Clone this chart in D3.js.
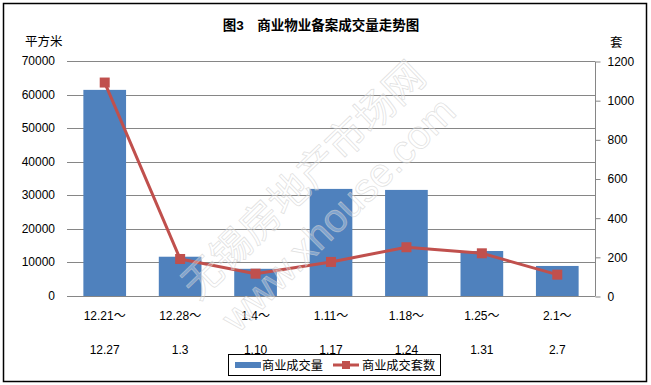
<!DOCTYPE html>
<html>
<head>
<meta charset="utf-8">
<script src="https://cdn.jsdelivr.net/npm/d3@7"></script>
<style>
  body { margin: 0; background: #fff; }
  svg text { font-family: "Liberation Sans", Arial, "Noto Sans CJK SC", sans-serif; }
</style>
</head>
<body>
<svg id="chart" width="651" height="385"></svg>
<script>
var periodStart = ["12.21～", "12.28～", "1.4～", "1.11～", "1.18～", "1.25～", "2.1～"];
var periodEnd = ["12.27", "1.3", "1.10", "1.17", "1.24", "1.31", "2.7"];
var areaSold = [61400, 11700, 8100, 31900, 31600, 13400, 8950];
var unitsSold = [1090, 189, 114, 174, 249, 218, 109];
var leftTicks = [0, 10000, 20000, 30000, 40000, 50000, 60000, 70000];
var rightTicks = [0, 200, 400, 600, 800, 1000, 1200];

var svg = d3.select("#chart");
var cjk = "'Noto Sans CJK SC', sans-serif";

// outer frame
svg.append("rect")
    .attr("x", 3.5).attr("y", 3.5)
    .attr("width", 643).attr("height", 378)
    .attr("fill", "#fff")
    .attr("stroke", "#000")
    .attr("stroke-width", 1.5);

// plot area (window.top is reserved, so prefixed names)
var plotLeft = 67, plotRight = 595, plotTop = 61, plotBottom = 296;

var x = d3.scaleBand()
    .domain(d3.range(periodStart.length))
    .range([plotLeft, plotRight])
    .paddingInner(0.434)
    .paddingOuter(0.217);

var yL = d3.scaleLinear().domain([0, 70000]).range([plotBottom, plotTop]);
var yR = d3.scaleLinear().domain([0, 1200]).range([plotBottom, plotTop]);

// gridlines
svg.append("g")
    .selectAll("line")
    .data(leftTicks)
    .enter().append("line")
    .attr("x1", plotLeft).attr("x2", plotRight)
    .attr("y1", function (d) { return Math.round(yL(d)) + 0.5; })
    .attr("y2", function (d) { return Math.round(yL(d)) + 0.5; })
    .attr("stroke", "#868686")
    .attr("stroke-width", 1);

// left tick labels (no axis line)
svg.append("g")
    .selectAll("text")
    .data(leftTicks)
    .enter().append("text")
    .attr("x", 55)
    .attr("y", function (d) { return yL(d) + 4; })
    .attr("text-anchor", "end")
    .attr("font-size", 12)
    .attr("fill", "#000")
    .text(function (d) { return d; });

// right axis
var axisR = d3.axisRight(yR).tickValues(rightTicks).tickFormat(d3.format("d"))
    .tickSize(5).tickPadding(7);
var gR = svg.append("g")
    .attr("transform", "translate(" + (plotRight + 0.5) + ",0.5)")
    .call(axisR);
gR.select(".domain").attr("stroke", "#868686").attr("d", "M0," + plotTop + "V" + plotBottom);
gR.selectAll(".tick line").attr("stroke", "#868686");
gR.selectAll(".tick text")
    .attr("font-size", 12)
    .attr("font-family", "'Liberation Sans', Arial, sans-serif")
    .attr("fill", "#000");

// bars
svg.append("g")
    .selectAll("rect")
    .data(areaSold)
    .enter().append("rect")
    .attr("x", function (d, i) { return x(i); })
    .attr("y", function (d) { return yL(d); })
    .attr("width", x.bandwidth())
    .attr("height", function (d) { return plotBottom - yL(d); })
    .attr("fill", "#4f81bd");

// line
var cx = function (d, i) { return x(i) + x.bandwidth() / 2; };
var line = d3.line()
    .x(cx)
    .y(function (d) { return yR(d); });

svg.append("path")
    .datum(unitsSold)
    .attr("d", line)
    .attr("fill", "none")
    .attr("stroke", "#c0504d")
    .attr("stroke-width", 3)
    .attr("stroke-linejoin", "round");

svg.append("g")
    .selectAll("rect")
    .data(unitsSold)
    .enter().append("rect")
    .attr("x", function (d, i) { return cx(d, i) - 5; })
    .attr("y", function (d) { return yR(d) - 5; })
    .attr("width", 10).attr("height", 10)
    .attr("fill", "#c0504d");

// x labels
var xl = svg.append("g");
xl.selectAll(".l1")
    .data(periodStart)
    .enter().append("text")
    .attr("class", "l1")
    .attr("x", function (d, i) { return x(i) + x.bandwidth() / 2; })
    .attr("y", 320)
    .attr("text-anchor", "middle")
    .attr("font-size", 12)
    .attr("fill", "#000")
    .text(function (d) { return d; });
xl.selectAll(".l2")
    .data(periodEnd)
    .enter().append("text")
    .attr("class", "l2")
    .attr("x", function (d, i) { return x(i) + x.bandwidth() / 2; })
    .attr("y", 354)
    .attr("text-anchor", "middle")
    .attr("font-size", 12)
    .attr("fill", "#000")
    .text(function (d) { return d; });

// title and axis units
svg.append("text")
    .attr("x", 321).attr("y", 30)
    .attr("text-anchor", "middle")
    .attr("font-size", 13.5)
    .attr("font-weight", "bold")
    .style("font-family", "'Liberation Sans', " + cjk)
    .text("图3　商业物业备案成交量走势图");

svg.append("text")
    .attr("x", 25).attr("y", 46)
    .attr("font-size", 12.5)
    .style("font-family", cjk)
    .text("平方米");

svg.append("text")
    .attr("x", 610).attr("y", 47)
    .attr("font-size", 12.5)
    .style("font-family", cjk)
    .text("套");

// legend
var lg = svg.append("g");
lg.append("rect")
    .attr("x", 228.5).attr("y", 354.5)
    .attr("width", 212).attr("height", 21)
    .attr("fill", "#fff")
    .attr("stroke", "#000");
lg.append("rect")
    .attr("x", 235).attr("y", 362)
    .attr("width", 26).attr("height", 6)
    .attr("fill", "#4f81bd");
lg.append("text")
    .attr("x", 262).attr("y", 370)
    .attr("font-size", 12.2)
    .style("font-family", cjk)
    .text("商业成交量");
lg.append("line")
    .attr("x1", 333).attr("x2", 359)
    .attr("y1", 365).attr("y2", 365)
    .attr("stroke", "#c0504d")
    .attr("stroke-width", 3);
lg.append("rect")
    .attr("x", 342).attr("y", 361)
    .attr("width", 8).attr("height", 8)
    .attr("fill", "#c0504d");
lg.append("text")
    .attr("x", 362).attr("y", 370)
    .attr("font-size", 12.2)
    .style("font-family", cjk)
    .text("商业成交套数");

// watermark
var wm = svg.append("g")
    .attr("fill", "rgba(255,255,255,0.3)")
    .attr("stroke", "rgba(205,205,205,0.6)")
    .attr("stroke-width", 0.8)
    .attr("text-anchor", "middle");
wm.append("text")
    .attr("transform", "translate(313,190) rotate(-44)")
    .attr("font-size", 40)
    .style("font-family", cjk)
    .text("无锡房地产市场网");
wm.append("text")
    .attr("transform", "translate(348,224) rotate(-45)")
    .attr("font-size", 40)
    .style("font-family", "'Liberation Sans', Arial, sans-serif")
    .text("www.xhouse.com");
</script>
</body>
</html>
